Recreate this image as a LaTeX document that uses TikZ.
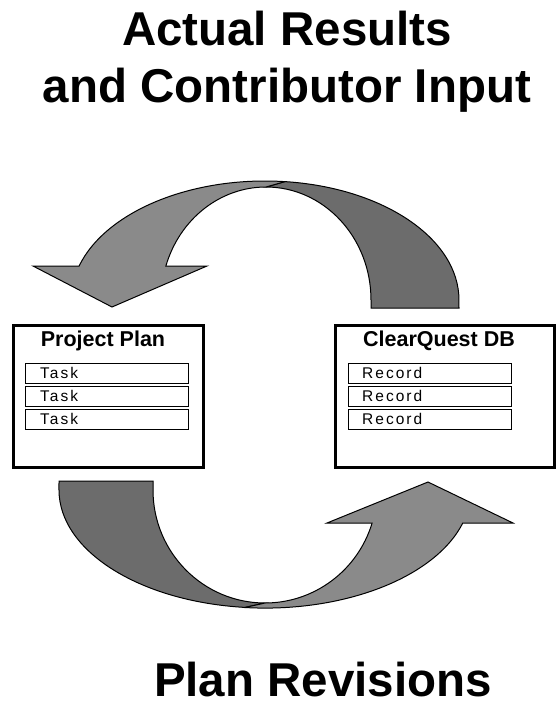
\documentclass[tikz,border=0pt]{standalone}
\usepackage{fontspec}
\setmainfont{Liberation Sans}
\definecolor{arrowlightgray}{HTML}{8A8A8A}
\definecolor{arrowdarkgray}{HTML}{6C6C6C}
\begin{document}
\begin{tikzpicture}[x=1pt,y=-1pt,
  lightarrow/.style={fill=arrowlightgray,draw=black,line width=1pt,line join=miter},
  darkarrow/.style={fill=arrowdarkgray,draw=black,line width=1pt,line join=miter},
  bigfont/.style={font=\fontsize{47.5}{57}\selectfont\bfseries,inner sep=0pt},
  bigtitle/.style={bigfont,align=center},
  frame/.style={draw,line width=3pt,minimum width=190pt,minimum height=142pt,inner sep=0pt,anchor=north west},
  boxtitle/.style={font=\fontsize{21.5}{24}\selectfont\bfseries,inner sep=0pt,anchor=base},
  rowbox/.style={draw,line width=1.2pt,minimum width=163pt,minimum height=20pt,inner sep=0pt,anchor=north west},
  rowtext/.style={font=\fontsize{15.5}{17}\selectfont\addfontfeatures{LetterSpace=13},inner sep=0pt,anchor=west}]
\useasboundingbox (0,0) rectangle (555,705);

% titles
\node[bigtitle,anchor=base] (toptitle) at (287,102) {Actual Results\\and Contributor Input};
\node[bigfont,anchor=base] (bottitle) at (323,696) {Plan Revisions};

% top arrow
\draw[darkarrow] (284.9,181.6) arc[start angle=275.9,end angle=360,x radius=194,y radius=119]
  -- (459,308) -- (371,308) -- (371,300)
  arc[start angle=0,end angle=-90,x radius=105,y radius=113] -- cycle;
\draw[lightarrow] (79.1,266) arc[start angle=196.6,end angle=275.9,x radius=194,y radius=119]
  -- (266,187) arc[start angle=270,end angle=197.5,x radius=105,y radius=113]
  -- (207,266) -- (112,307) -- (33,266) -- cycle;

% bottom arrow
\draw[darkarrow] (244.9,607.4) arc[start angle=95.6,end angle=180,x radius=206,y radius=118]
  -- (59,481) -- (153,481) -- (153,490)
  arc[start angle=180,end angle=90,x radius=112,y radius=113] -- cycle;
\draw[lightarrow] (462.8,523) arc[start angle=16.2,end angle=95.6,x radius=206,y radius=118]
  -- (265,603) arc[start angle=90,end angle=17,x radius=112,y radius=113]
  -- (327,523) -- (428,482) -- (513,523) -- cycle;

% Project Plan box
\node[frame] (plan) at (11.5,323.5) {};
\node[boxtitle] (plantitle) at (103,346) {Project Plan};
\node[rowbox] (task1) at (25,363) {};
\node[rowbox] (task2) at (25,386) {};
\node[rowbox] (task3) at (25,409) {};
\node[rowtext] (task1t) at (40,373) {Task};
\node[rowtext] (task2t) at (40,396) {Task};
\node[rowtext] (task3t) at (40,419) {Task};

% ClearQuest DB box
\node[frame,minimum width=219pt] (cq) at (333.5,323.5) {};
\node[boxtitle] (cqtitle) at (439,346) {ClearQuest DB};
\node[rowbox] (rec1) at (348,363) {};
\node[rowbox] (rec2) at (348,386) {};
\node[rowbox] (rec3) at (348,409) {};
\node[rowtext] (rec1t) at (362,373) {Record};
\node[rowtext] (rec2t) at (362,396) {Record};
\node[rowtext] (rec3t) at (362,419) {Record};
\end{tikzpicture}
\end{document}
